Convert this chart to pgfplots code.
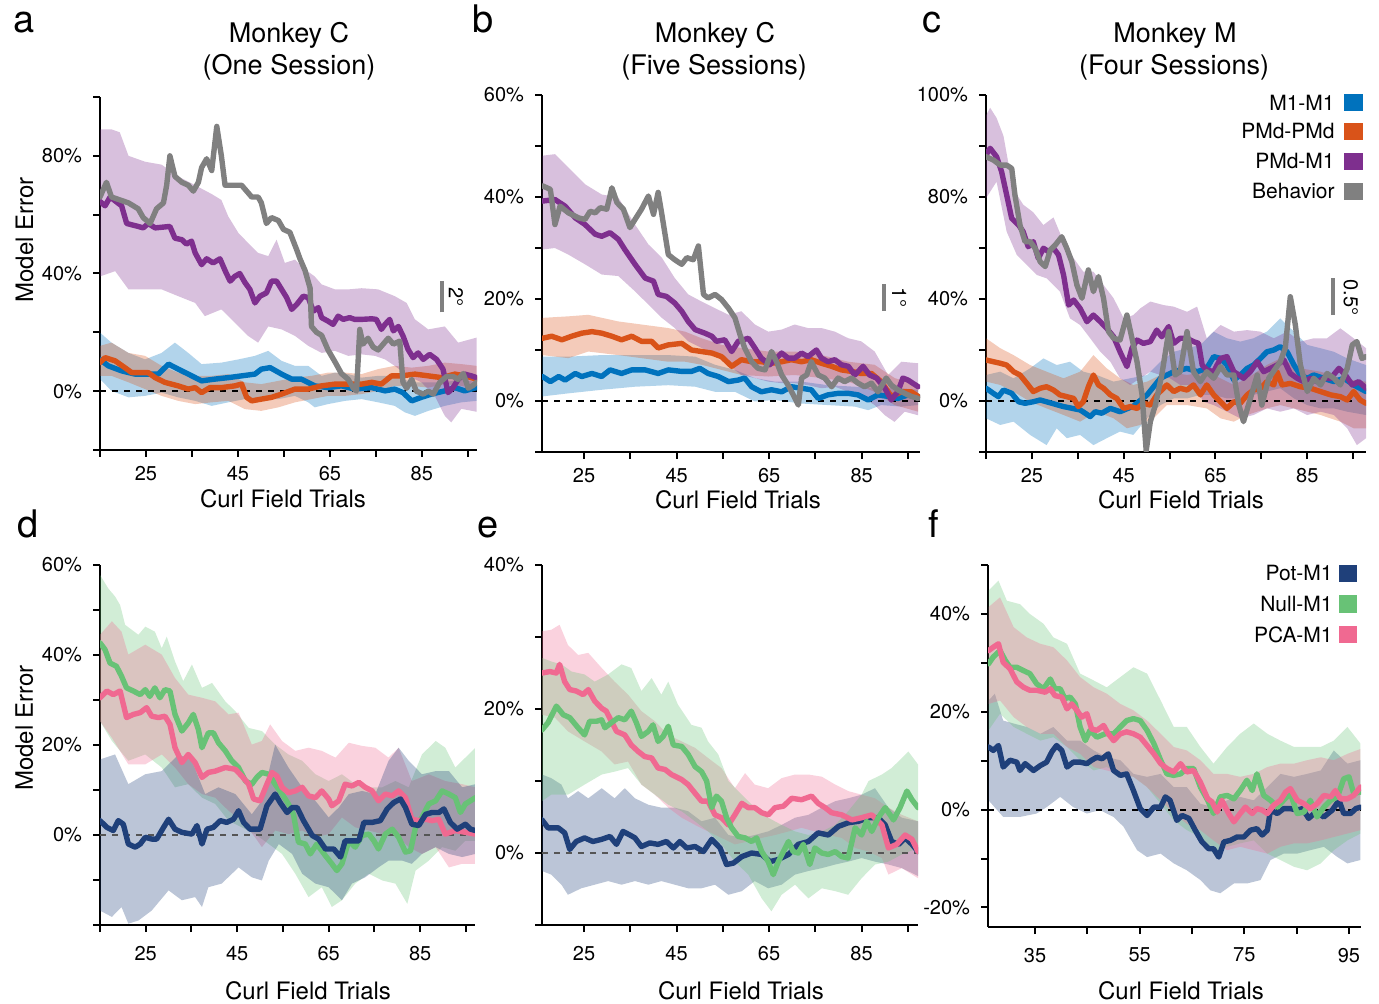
\documentclass[border=0pt]{standalone}
\usepackage{pgfplots}
\pgfplotsset{compat=1.18}
\usepgfplotslibrary{fillbetween}
\usepackage{fontspec}
\setmainfont{TeX Gyre Heros}
\definecolor{cM}{RGB}{0,114,189}
\definecolor{cO}{RGB}{217,83,25}
\definecolor{cP}{RGB}{126,47,142}
\definecolor{cG}{RGB}{128,128,128}
\definecolor{cN}{RGB}{31,64,122}
\definecolor{cL}{RGB}{104,194,118}
\definecolor{cK}{RGB}{240,105,145}
\definecolor{dg}{RGB}{85,85,85}
\newcommand{\band}[4]{%
 \addplot[draw=none, name path=#2u] coordinates {#3};
 \addplot[draw=none, name path=#2l] coordinates {#4};
 \addplot[fill=#1, fill opacity=0.3, draw=none] fill between[of=#2u and #2l];}
\tikzset{sb/.style={cG, line width=2pt}}
\pgfplotsset{
 panel/.style={scale only axis, anchor=south west, axis x line*=bottom, axis y line*=left,
   axis line style={-, line width=1pt}, tick align=outside, major tick length=3.5pt,
   tick style={black, line width=1pt},
   tick label style={font=\fontsize{10}{12}\selectfont},
   yticklabel style={xshift=-2pt},
   label style={font=\fontsize{12}{14}\selectfont},
   xlabel={Curl Field Trials}},
 ln/.style={line width=2.7pt, line join=round, line cap=round},
 zl/.style={line width=1pt, dash pattern=on 3pt off 3pt},
}
\begin{document}
\begin{tikzpicture}
% ---------------- a ----------------
\begin{axis}[panel, at={(50pt,-225pt)}, width=188.5pt, height=176.5pt,
  xmin=15, xmax=97, ymin=-20, ymax=100,
  xtick={15,25,...,95}, xticklabels={,25,,45,,65,,85,}, xticklabel style={yshift=-1pt},
  ytick={-20,0,...,100}, yticklabels={,0\%,,40\%,,80\%,},
  ylabel={Model Error},
  xlabel style={at={(axis description cs:0.4854,-0.1643)}, anchor=base},
  ylabel style={at={(axis description cs:-0.1777,0.595)}, anchor=base}]
\addplot[black, zl] coordinates {(15,0) (97,0)};
\band{cM}{am}{(15.0,19.9) (17.5,16.5) (21.2,13) (24.8,10.8) (28.4,13) (31.3,16.5) (34.2,13) (37.1,9.2) (41.4,9.7) (45.1,10.8) (48.7,12) (51.6,13.7) (54.5,10.3) (57.4,8.6) (60.3,8.6) (63.2,5.2) (66.1,6.3) (69.0,5.8) (71.9,4.6) (75.5,5.2) (79.1,5.2) (82.8,3) (86.4,3) (90.0,3) (93.6,4.1) (96.9,3)}{(15.0,4.1) (17.5,0.1) (21.2,-2.1) (24.8,-1.6) (28.4,-0.5) (32.0,-2.1) (35.7,-3.3) (39.3,-5) (42.9,-3.8) (46.5,-2.7) (50.1,-2.7) (53.8,-2.7) (57.4,-1.6) (60.3,-3.8) (61.7,-5.5) (64.6,-4.4) (68.3,-3.3) (71.9,-2.7) (75.5,-3.8) (79.1,-5) (81.3,-7.2) (83.5,-8.4) (86.4,-6.7) (90.0,-5) (93.6,-3.8) (96.9,-3.3)}
\addplot[cM, ln] coordinates {(15.0,10.8) (16.8,8.6) (19.7,6.9) (22.6,5.8) (25.5,5.8) (27.7,5.8) (29.9,9.2) (32.0,7.5) (34.2,5.8) (37.1,3.5) (40.0,4.1) (42.9,4.6) (45.8,5.2) (48.7,5.8) (50.1,7.5) (52.0,8) (54.5,5.8) (56.7,4.1) (58.8,4.1) (61.7,1.8) (64.6,1.2) (67.5,1.8) (70.4,0.7) (74.1,1.2) (77.0,0.1) (79.1,0.7) (80.9,-0.5) (82.8,-3.3) (84.9,-2.1) (87.1,-1) (90.0,0.1) (92.2,1.2) (94.3,0.1) (96.9,1.2)};
\band{cO}{ao}{(15.0,15.4) (17.5,16.5) (21.2,13) (24.8,12) (28.4,8.6) (32.0,6.3) (35.7,5.2) (39.3,5.2) (42.9,5.8) (46.5,3) (50.1,2.4) (53.8,3.5) (57.4,4.6) (61.0,5.2) (64.6,6.3) (68.3,6.3) (71.9,5.8) (75.5,7.5) (79.1,8.6) (82.8,8) (86.4,8.6) (90.0,9.7) (93.6,9.2) (96.9,8.6)}{(15.0,5.2) (17.5,5.2) (21.2,3) (24.8,0.7) (28.4,-1.6) (32.0,-3.3) (35.7,-4.4) (39.3,-3.8) (42.9,-3.3) (46.5,-6.1) (50.1,-6.7) (53.8,-5.5) (57.4,-3.8) (61.0,-2.7) (64.6,-1.6) (68.3,-1.6) (71.9,-1) (75.5,0.1) (79.1,1.8) (82.8,1.8) (86.4,1.2) (90.0,2.4) (93.6,1.8) (96.9,0.7)}
\addplot[cO, ln] coordinates {(15.0,9.7) (16.1,11.4) (18.3,10.3) (20.4,8) (21.9,6.3) (23.7,6.3) (25.5,6.3) (27.0,4.6) (29.1,3) (32.0,1.8) (34.2,0.7) (35.7,1.2) (37.1,-0.5) (38.9,1.2) (41.4,1.2) (44.3,1.8) (45.8,2.4) (46.9,-2.1) (48.0,-3.3) (50.1,-2.7) (52.3,-2.1) (54.5,-1) (57.4,0.7) (60.3,0.7) (63.2,1.8) (66.1,2.4) (69.0,2.4) (71.9,2.4) (74.1,3) (76.2,2.4) (78.4,5.2) (80.6,5.2) (83.5,5.8) (86.4,5.2) (89.3,4.6) (92.2,5.8) (94.3,5.2) (96.9,4.1)};
\band{cP}{ap}{(15.0,89) (17.5,89) (19.3,88) (21.2,80) (24.8,78) (28.4,77) (32.0,73) (35.7,70) (39.3,67) (41.4,65) (42.9,59.4) (45.1,53.8) (47.2,50.4) (49.4,47) (51.6,45.9) (53.4,51.5) (55.2,43.6) (57.4,44.7) (59.6,41.4) (61.7,39) (63.2,36.3) (66.1,34.6) (69.0,34.6) (71.9,35) (75.5,34.6) (79.1,32.3) (81.7,30) (83.5,24.4) (86.4,21) (90.0,22) (92.9,16.5) (96.9,18.2)}{(15.0,39) (18.3,40.8) (21.2,34.6) (24.8,34.6) (28.4,34.6) (32.0,32.3) (35.7,30) (37.8,25.5) (41.4,27.8) (44.3,23.3) (47.2,18.8) (49.4,16.5) (51.6,22) (54.5,21) (57.4,18.8) (60.3,15.4) (63.2,13) (66.1,13.7) (69.0,12) (71.9,12.5) (74.8,12) (77.0,10.8) (79.1,8.6) (82.0,5.2) (84.9,3) (87.8,-1.6) (90.0,-8.4) (91.4,-10.6) (93.6,-6) (96.9,-7)}
\addplot[cP, ln] coordinates {(15.0,64.5) (16.1,63) (17.2,66) (19.7,63) (20.8,57) (23.3,56) (24.4,55.5) (25.5,57) (27.0,55.5) (30.2,56) (31.3,52) (32.8,51.5) (33.8,50) (34.9,51) (35.7,47) (37.1,43) (38.2,45) (39.6,43.6) (41.1,45) (42.2,41) (43.3,37.4) (44.3,39) (45.4,40) (46.5,37) (47.6,34.6) (48.7,30) (49.8,32.3) (51.2,33.4) (52.3,37.4) (53.4,37.4) (54.5,34.6) (55.6,31.8) (56.7,27.8) (57.8,29.5) (59.2,32.3) (60.3,31.8) (61.4,27.2) (62.5,28.4) (63.2,25) (64.6,23.8) (65.7,22.7) (66.8,25.5) (67.9,24.4) (69.3,25) (70.4,24.4) (71.9,24.4) (74.1,24.6) (75.1,24.4) (76.2,21) (77.0,22.7) (78.0,24.4) (78.8,20.5) (79.9,22) (80.9,18.8) (82.0,14.2) (83.1,11.4) (84.2,13) (85.3,10.8) (86.7,12.5) (88.2,10.8) (89.6,7.5) (90.7,-0.5) (91.8,1.2) (92.9,4) (94.3,5.8) (95.8,5.2) (96.9,4.6)};
\addplot[cG, ln] coordinates {(15.0,66) (16.4,71) (17.5,66) (21.2,64) (23.3,62) (24.4,59) (25.9,57) (27.3,62) (28.8,64) (29.5,70) (30.2,80) (31.3,73) (32.8,71) (34.2,70) (35.3,68) (36.4,71) (37.1,76) (38.2,79) (39.3,75) (40.4,90) (41.4,80) (42.2,70) (45.8,70) (46.9,68) (48.0,66) (49.4,66) (50.1,64) (51.2,57) (52.3,59) (53.8,58) (54.9,55) (56.3,54) (57.8,48) (58.5,45) (59.6,41) (60.7,35) (61.0,22) (62.1,20) (63.2,19) (64.6,14) (66.1,10) (67.5,6) (69.0,4) (70.1,1) (70.8,0) (71.5,21) (72.2,16) (73.3,18) (74.4,15) (75.5,14) (76.6,16) (77.7,18) (78.8,16) (80.2,17) (80.9,3) (81.7,1) (82.8,4) (83.8,0) (85.3,-1) (86.4,0) (87.5,-1) (88.9,3) (90.4,5) (91.8,5) (92.9,4) (94.0,6) (95.1,1) (96.2,2) (96.9,3)};
\draw[sb] (axis cs:89.3,26.8) -- (axis cs:89.3,37.3);
\node[rotate=-90, font=\fontsize{10}{12}\selectfont] at (axis cs:92.4,31.9) {2°};
\end{axis}
% ---------------- b ----------------
\begin{axis}[panel, at={(271pt,-226pt)}, width=189pt, height=178.5pt,
  xmin=15.9, xmax=97.6, ymin=-10, ymax=60,
  xtick={25,35,...,95}, xticklabels={25,,45,,65,,85,}, xticklabel style={yshift=-1pt},
  ytick={-10,0,...,60}, yticklabels={,0\%,,20\%,,40\%,,60\%},
  xlabel style={at={(axis description cs:0.5185,-0.1569)}, anchor=base}]
\addplot[black, zl] coordinates {(15.9,0) (97.6,0)};
\band{cM}{bm}{(16.0,8.7) (21.6,8.7) (28.8,9.0) (36.0,9.0) (43.2,9.0) (49.0,8.7) (53.3,7.1) (57.6,6.1) (61.9,4.5) (66.2,3.8) (72.0,3.8) (77.7,3.1) (83.5,2.8) (89.2,2.5) (93.6,2.5) (97.2,2.2)}{(16.0,0.9) (21.6,1.5) (28.8,2.2) (36.0,2.8) (43.2,3.1) (49.0,2.8) (53.3,1.8) (57.6,1.8) (61.9,-0.1) (66.2,0.2) (72.0,-0.5) (77.7,-0.8) (83.5,-1.1) (86.4,-1.8) (89.2,-0.8) (93.6,-1.1) (97.2,-0.8)}
\addplot[cM, ln] coordinates {(16.0,4.8) (17.7,3.8) (19.5,4.8) (20.9,4.1) (23.1,5.4) (24.5,4.8) (26.7,5.4) (28.8,4.8) (30.6,6.1) (33.1,5.4) (35.3,6.1) (38.2,6.1) (41.0,5.4) (43.2,6.1) (46.1,5.8) (48.2,5.8) (50.0,6.4) (51.8,5.4) (54.0,4.8) (56.2,3.8) (58.3,4.1) (59.7,4.5) (61.2,2.8) (63.3,1.8) (65.5,2.2) (67.7,1.8) (69.8,2.8) (72.0,2.5) (74.1,2.2) (75.6,0.5) (77.7,1.2) (79.9,1.5) (82.1,1.5) (84.2,1.2) (86.4,0.2) (88.5,1.2) (90.7,0.9) (92.8,0.5) (95.0,1.2) (97.2,0.9)};
\band{cO}{bo}{(16.0,16.3) (21.6,16.6) (25.9,16.9) (32.4,15.6) (37.4,15.0) (43.2,14.3) (46.8,13.6) (50.4,12.3) (54.7,11.0) (59.0,10.4) (64.8,9.7) (70.5,9.7) (76.3,9.0) (82.1,7.7) (87.8,7.1) (92.1,4.5) (97.2,3.1)}{(16.0,9.0) (21.6,8.4) (25.9,9.7) (32.4,9.0) (37.4,8.4) (43.2,7.7) (46.8,7.7) (50.4,7.1) (54.7,6.1) (59.0,5.1) (64.8,4.8) (70.5,5.1) (76.3,4.5) (82.1,3.8) (87.8,1.8) (92.1,-0.8) (97.2,-2.1)}
\addplot[cO, ln] coordinates {(16.0,12.3) (18.0,12.7) (20.2,12.0) (22.3,12.7) (24.5,13.3) (26.7,13.6) (28.8,13.3) (31.0,12.7) (33.1,12.0) (35.3,12.7) (37.4,11.7) (39.6,11.7) (41.0,10.4) (43.2,11.0) (46.1,11.3) (48.2,10.0) (50.4,9.7) (52.6,9.4) (54.7,8.7) (56.9,6.8) (59.0,8.1) (61.2,7.7) (63.3,7.7) (65.5,7.4) (67.7,7.7) (69.8,8.1) (72.0,7.7) (74.1,8.1) (76.3,7.4) (78.5,6.8) (80.6,6.1) (82.8,5.8) (84.9,5.4) (87.1,5.4) (89.2,3.8) (91.4,0.9) (93.6,1.8) (95.7,1.8) (97.2,0.9)};
\band{cP}{bp}{(16.0,48.1) (18.7,48.4) (21.6,45.8) (25.2,42.5) (28.8,40.5) (32.4,39.9) (36.0,34.6) (38.9,30.7) (41.8,28.1) (44.6,24.1) (47.5,20.9) (50.4,19.5) (53.3,18.2) (56.2,16.9) (59.0,17.6) (61.9,15.0) (64.8,13.6) (67.7,14.0) (70.5,15.0) (73.4,14.3) (76.3,14.3) (79.2,13.6) (82.1,12.3) (84.9,11.7) (87.8,9.7) (90.7,5.1) (93.6,7.7) (97.2,7.4)}{(16.0,29.7) (18.7,30.0) (21.6,28.7) (25.2,26.8) (28.8,24.8) (32.4,24.5) (36.0,21.5) (38.9,18.9) (41.8,16.3) (44.6,14.3) (47.5,11.7) (50.4,10.4) (53.3,9.0) (56.2,7.1) (59.0,5.1) (61.9,4.5) (64.8,3.8) (67.7,3.5) (70.5,3.5) (73.4,3.1) (76.3,2.5) (79.2,2.8) (82.1,1.8) (84.9,0.9) (87.8,-0.8) (90.0,-2.8) (92.1,-4.1) (94.3,-2.1) (97.2,-2.8)}
\addplot[cP, ln] coordinates {(16.0,39.2) (18.7,39.5) (20.9,38.2) (23.1,35.9) (25.2,34.6) (27.4,32.7) (28.8,32.3) (30.6,33.0) (32.4,31.7) (33.8,29.7) (36.0,26.8) (38.2,24.1) (40.0,23.5) (41.0,20.9) (42.8,20.5) (44.6,19.2) (46.1,17.6) (47.5,15.6) (49.0,14.0) (51.1,13.3) (52.6,12.7) (53.6,11.7) (55.4,12.0) (56.9,9.7) (58.3,11.7) (60.5,12.3) (61.9,10.4) (63.3,8.4) (65.1,7.1) (66.2,8.1) (67.7,9.4) (69.1,8.4) (70.5,8.4) (72.0,9.4) (73.4,8.7) (75.2,10.0) (76.3,8.4) (77.7,7.7) (79.2,8.1) (80.6,7.1) (82.1,6.8) (83.5,5.1) (85.3,6.8) (86.7,5.1) (88.2,4.5) (90.0,2.5) (91.4,0.2) (92.8,1.8) (93.9,4.5) (95.0,4.1) (97.2,2.8)};
\addplot[cG, ln] coordinates {(16.0,42.2) (17.7,41.5) (18.7,34.6) (19.8,38.2) (21.6,36.9) (23.8,35.9) (25.2,35.6) (26.3,37.2) (27.4,36.9) (28.5,37.9) (29.9,37.6) (31.0,41.8) (32.1,38.9) (33.5,37.6) (34.9,34.0) (36.0,35.6) (37.4,37.6) (38.9,40.2) (40.0,36.6) (41.0,40.9) (41.8,36.6) (43.2,28.7) (44.6,27.7) (46.1,26.8) (47.2,28.1) (48.6,27.7) (49.7,30.4) (50.8,20.9) (51.8,20.2) (53.3,20.9) (54.7,19.9) (56.2,18.2) (57.6,16.3) (58.7,13.0) (59.7,10.4) (61.2,7.7) (62.6,6.4) (64.1,6.1) (65.5,9.7) (66.6,7.7) (67.7,5.1) (69.1,3.1) (70.2,1.2) (71.3,-0.8) (72.0,4.5) (73.1,5.1) (74.1,7.7) (75.6,5.1) (77.0,4.5) (78.5,2.8) (79.9,4.5) (81.3,3.8) (82.8,4.5) (84.2,3.5) (85.6,2.8) (87.1,3.5) (88.5,1.8) (90.3,4.5) (91.4,3.1) (92.8,2.2) (94.3,1.5) (95.7,0.9) (97.2,0.5)};
\draw[sb] (axis cs:89.8,17.6) -- (axis cs:89.8,23.0);
\node[rotate=-90, font=\fontsize{10}{12}\selectfont] at (axis cs:93.1,20.3) {1°};
\end{axis}
% ---------------- c ----------------
\begin{axis}[panel, at={(493pt,-226pt)}, width=190pt, height=178.5pt,
  xmin=15, xmax=97.8, ymin=-20, ymax=120,
  xtick={15,25,...,95}, xticklabels={,25,,45,,65,,85,}, xticklabel style={yshift=-1pt},
  ytick={-20,0,...,120}, yticklabels={,0\%,,40\%,,80\%,,100\%},
  xlabel style={at={(axis description cs:0.513,-0.1569)}, anchor=base}]
\addplot[black, zl] coordinates {(15,0) (97.8,0)};
\band{cM}{cm}{(15.0,10.2) (18.1,11.5) (21.0,8.9) (24.6,12.8) (27.5,16.7) (30.4,14.1) (33.3,15.4) (36.2,11.5) (39.1,10.2) (42.8,7.6) (46.4,8.9) (50.1,10.2) (53.0,15.4) (55.9,19.3) (58.8,20.7) (61.7,22.0) (64.6,27.2) (67.5,24.6) (70.4,23.3) (73.3,24.6) (76.2,27.2) (79.1,32.4) (82.1,27.2) (85.0,22.0) (87.9,20.7) (90.8,19.3) (93.7,16.7) (97.8,14.1)}{(15.0,-6.8) (18.1,-9.4) (21.0,-8.1) (24.6,-13.3) (28.2,-17.3) (30.4,-10.7) (32.6,-14.6) (35.5,-13.3) (38.4,-17.3) (41.3,-14.6) (44.2,-12.0) (47.1,-13.3) (50.1,-6.8) (53.0,-1.6) (55.9,1.0) (58.8,1.0) (61.7,2.4) (64.6,2.4) (67.5,1.0) (70.4,1.0) (73.3,2.4) (76.2,3.7) (79.1,5.0) (82.1,1.0) (85.0,-1.6) (87.9,-2.9) (90.8,-2.9) (93.7,-4.2) (97.8,-5.5)}
\addplot[cM, ln] coordinates {(15.0,5.0) (16.6,3.0) (17.7,1.7) (18.8,4.3) (20.6,3.0) (22.1,-0.3) (23.5,-0.9) (25.3,-0.3) (26.8,0.4) (31.9,-2.2) (35.5,-3.5) (37.7,-6.1) (38.8,-4.2) (40.2,-4.8) (42.1,-2.9) (44.2,-4.2) (47.1,-2.0) (50.1,2.4) (53.0,8.9) (55.9,11.5) (58.8,12.8) (61.0,11.5) (63.1,12.8) (64.6,17.4) (66.1,16.7) (67.5,14.1) (69.0,8.2) (70.4,10.2) (71.9,12.8) (73.3,14.1) (74.8,16.7) (76.2,19.3) (77.7,20.0) (79.1,21.3) (80.6,19.3) (82.1,14.1) (83.5,10.2) (85.0,8.9) (86.4,10.2) (88.6,8.9) (90.8,7.6) (93.0,8.9) (95.1,6.3) (97.8,3.7)};
\band{cO}{co}{(15.0,24.6) (18.1,20.7) (21.0,18.0) (24.6,14.1) (28.2,11.5) (31.9,8.9) (35.5,11.5) (38.4,18.0) (41.3,12.8) (44.2,8.9) (47.1,6.3) (50.1,7.6) (54.4,11.5) (58.8,10.2) (63.1,11.5) (66.1,8.9) (69.0,6.3) (71.9,8.9) (76.2,14.1) (79.1,16.7) (83.5,12.8) (87.9,11.5) (92.2,8.9) (97.8,7.6)}{(15.0,7.6) (18.1,6.3) (21.0,3.7) (24.6,-0.3) (28.2,-2.9) (31.9,-5.5) (35.5,-8.1) (39.1,-4.2) (42.8,-6.8) (45.7,-10.7) (48.6,-9.4) (51.5,-6.8) (54.4,-1.6) (58.8,-1.6) (63.1,-2.9) (66.1,-6.8) (69.0,-8.1) (71.9,-5.5) (76.2,-2.9) (79.1,-1.6) (83.5,-3.5) (87.9,-5.5) (92.2,-8.1) (95.1,-10.7) (97.8,-10.7)}
\addplot[cO, ln] coordinates {(15.0,16.1) (16.6,15.4) (18.1,14.8) (19.5,14.1) (21.0,11.5) (22.4,10.2) (23.9,6.9) (25.3,3.7) (26.8,5.0) (28.2,5.6) (29.7,4.3) (31.1,2.4) (32.6,1.7) (34.1,1.0) (35.1,-2.2) (36.2,-0.3) (37.3,5.6) (38.4,10.2) (39.5,6.3) (40.6,5.0) (42.1,2.4) (43.5,1.0) (45.0,-2.9) (46.4,-2.2) (47.9,-2.9) (49.3,-0.9) (50.8,-1.6) (52.2,2.4) (54.4,6.3) (55.9,3.7) (57.3,5.0) (58.8,4.3) (60.2,6.3) (61.7,2.4) (63.1,6.3) (64.6,2.4) (66.1,-0.3) (67.5,-2.9) (69.0,-0.3) (70.4,-0.9) (71.9,2.4) (73.3,4.3) (74.8,5.0) (76.2,7.6) (77.7,6.3) (78.4,11.5) (79.5,6.3) (81.3,6.9) (83.5,5.6) (85.7,5.0) (87.9,3.7) (90.1,2.4) (92.2,1.7) (93.7,0.4) (95.1,3.7) (96.5,0.4) (97.8,-0.9)};
\band{cP}{cp}{(15.0,112) (15.9,115) (17.3,111) (18.8,104) (20.2,90) (21.7,81) (23.1,77) (25.3,74) (27.5,69) (29.7,72) (31.9,62.5) (34.1,56) (36.2,50.7) (38.4,50.7) (40.6,45.5) (42.8,40.3) (45.0,32.4) (47.1,33.7) (48.6,36.3) (50.8,39.0) (53.7,37.6) (55.9,37.0) (58.8,35.0) (61.0,37.0) (63.1,24.6) (66.1,29.8) (69.0,27.2) (71.9,27.8) (74.8,27.2) (77.7,24.6) (80.6,27.2) (83.5,23.3) (86.4,24.6) (89.3,24.6) (92.2,28.5) (95.1,24.6) (97.8,20.7)}{(15.0,79.5) (17.3,86) (19.5,66.4) (21.7,57.3) (23.9,53.3) (26.1,49.4) (28.2,48.1) (31.1,42.9) (33.3,32.4) (35.5,29.8) (37.7,24.6) (39.9,19.3) (42.1,15.4) (44.2,8.9) (46.4,6.3) (48.6,8.9) (50.8,11.5) (53.0,10.2) (55.1,8.9) (57.3,6.3) (60.2,6.3) (62.4,-0.3) (64.6,-1.6) (67.5,-4.2) (70.4,-6.8) (73.3,-5.5) (76.2,-2.9) (79.1,-4.2) (82.1,-2.9) (85.0,-5.5) (87.9,-4.2) (90.8,-5.5) (93.7,-10.7) (95.8,-17.3) (97.8,-14.6)}
\addplot[cP, ln] coordinates {(15.0,96.5) (15.9,99.1) (17.3,95.8) (18.4,89.9) (19.5,80.8) (20.6,71.6) (22.1,69.0) (23.1,66.4) (24.2,60.5) (25.3,62.5) (26.4,55.9) (27.5,59.9) (28.6,58.6) (29.7,59.9) (30.8,57.3) (31.9,49.4) (33.0,37.6) (34.1,39.6) (35.5,36.3) (37.0,31.1) (38.4,33.7) (39.9,31.1) (41.3,28.5) (42.8,25.2) (44.2,19.3) (45.7,13.5) (46.8,20.7) (47.9,23.9) (49.3,22.6) (50.8,23.3) (52.2,27.8) (53.3,25.2) (54.8,29.2) (55.9,22.6) (57.3,24.6) (58.8,24.6) (60.2,23.3) (61.3,22.6) (62.1,14.1) (63.1,12.2) (64.6,11.5) (66.1,16.7) (67.5,17.4) (69.0,11.5) (70.1,10.2) (71.1,8.9) (72.6,11.5) (74.1,15.4) (75.5,11.5) (77.0,12.8) (78.4,14.1) (79.9,16.1) (81.3,10.8) (82.8,8.9) (84.2,7.6) (85.7,8.9) (87.1,7.6) (88.6,8.9) (90.1,8.9) (91.9,12.8) (93.3,10.2) (94.8,6.3) (96.2,7.6) (97.8,5.0)};
\addplot[cG, ln] coordinates {(15.0,95.8) (16.6,94.5) (18.1,92.5) (19.5,92.5) (20.6,91.2) (21.3,80.8) (22.4,69.0) (23.5,62.5) (24.6,62.5) (25.7,59.9) (26.8,54.6) (27.9,52.7) (29.0,59.2) (30.1,61.2) (31.5,64.4) (32.6,59.9) (33.7,54.6) (34.8,45.5) (35.9,40.3) (37.3,51.4) (38.4,42.9) (39.5,48.8) (40.6,40.3) (41.7,27.2) (42.8,24.6) (44.2,23.9) (45.7,33.7) (46.8,24.6) (47.9,15.4) (49.0,2.4) (49.9,-19.5) (50.8,-8.1) (51.9,-1.6) (53.3,10.2) (54.8,27.2) (56.2,10.2) (57.3,11.5) (58.8,27.2) (60.2,11.5) (61.7,7.6) (63.1,11.5) (64.6,8.9) (66.1,13.5) (67.5,10.2) (69.0,10.2) (70.1,-1.6) (71.1,-8.1) (72.6,1.0) (74.1,10.2) (75.1,-1.6) (76.6,8.9) (78.1,12.8) (79.1,15.4) (80.2,20.7) (81.3,40.9) (82.4,29.8) (83.5,14.1) (85.0,3.7) (86.4,8.9) (87.9,6.3) (89.3,10.8) (90.8,8.9) (92.2,6.3) (93.7,12.8) (94.8,22.0) (95.8,23.3) (96.9,16.7) (97.8,17.4)};
\draw[sb] (axis cs:90.5,33.7) -- (axis cs:90.5,48.2);
\node[rotate=-90, font=\fontsize{10}{12}\selectfont] at (axis cs:94.5,40.6) {0.5°};
\end{axis}
% ---------------- d ----------------
\begin{axis}[panel, at={(50pt,-462.5pt)}, width=187.5pt, height=180pt,
  xmin=15, xmax=97, ymin=-20, ymax=60,
  xtick={15,25,...,95}, xticklabels={,25,,45,,65,,85,}, xticklabel style={yshift=-3.5pt},
  ytick={-20,-10,...,60}, yticklabels={,,0\%,,20\%,,40\%,,60\%},
  ylabel={Model Error},
  xlabel style={at={(axis description cs:0.5547,-0.2056)}, anchor=base},
  ylabel style={at={(axis description cs:-0.1787,0.547)}, anchor=base}]
\addplot[dg, zl] coordinates {(15,0) (97,0)};
\band{cL}{dl}{(15.0,57.8) (16.8,54.8) (18.3,53.0) (19.4,51.1) (20.5,46.7) (23.4,44.5) (24.9,46.3) (27.0,45.2) (28.5,41.5) (29.6,44.1) (31.4,38.6) (33.2,34.2) (35.1,37.9) (37.3,32.7) (39.5,33.8) (42.4,29.7) (44.6,27.5) (47.5,23.8) (50.4,23.1) (53.3,20.1) (56.2,17.9) (59.2,16.5) (62.1,13.5) (65.0,12.0) (67.9,13.5) (70.8,11.3) (73.8,10.6) (76.7,10.6) (79.6,12.0) (82.5,10.6) (85.4,17.9) (88.4,20.9) (90.5,19.4) (92.7,15.0) (94.9,17.2) (97.1,19.4)}{(15.0,25.3) (17.6,20.9) (21.2,16.5) (24.9,17.9) (28.5,15.0) (31.4,10.6) (34.3,11.3) (37.3,8.3) (40.2,6.9) (43.1,3.2) (46.0,1.7) (48.9,0.2) (51.9,-2.0) (54.8,-4.2) (57.7,-8.6) (60.6,-13.8) (63.5,-11.6) (65.7,-16.0) (67.9,-14.5) (70.8,-10.8) (73.8,-8.6) (76.7,-10.1) (79.6,-10.8) (82.2,-15.3) (84.0,-7.9) (86.9,-5.7) (89.8,-2.7) (92.7,-3.5) (94.9,-1.3) (97.1,-1.3)}
\addplot[cL, ln] coordinates {(15.0,42.7) (16.1,41.2) (17.2,38.2) (18.6,37.5) (19.7,35.3) (20.8,32.7) (22.3,32.0) (23.8,31.2) (24.9,32.3) (25.9,30.8) (27.0,32.7) (28.1,30.5) (29.2,32.3) (30.3,32.0) (31.4,26.8) (32.9,23.1) (34.3,24.9) (35.4,26.8) (36.5,23.5) (37.3,19.4) (38.7,22.7) (39.8,22.7) (40.9,20.5) (42.4,18.7) (43.8,16.5) (45.3,15.0) (46.8,12.0) (48.2,11.3) (49.3,12.8) (50.4,13.9) (51.9,13.5) (53.3,11.3) (54.8,9.1) (56.2,6.9) (57.3,4.6) (58.4,-1.6) (59.9,-2.0) (61.0,-4.2) (62.4,-2.0) (64.3,-4.6) (65.7,-6.4) (66.8,-7.9) (67.9,-6.4) (69.4,-1.3) (70.8,-2.7) (72.3,-0.1) (73.8,0.2) (74.9,-1.3) (75.9,-3.1) (77.4,0.2) (78.9,1.3) (80.3,-0.5) (81.8,-3.8) (82.9,-3.5) (84.0,1.7) (85.4,3.9) (86.9,6.9) (88.4,7.6) (89.8,9.8) (91.3,9.1) (92.7,8.3) (93.8,5.0) (94.9,6.9) (97.1,8.3)};
\band{cK}{dk}{(15.0,44.5) (17.6,47.5) (19.7,45.2) (21.2,40.1) (24.9,42.3) (28.5,40.1) (31.4,34.9) (34.3,31.2) (37.3,30.5) (40.2,29.7) (43.1,26.8) (45.3,27.2) (48.2,20.1) (50.4,20.9) (52.2,24.6) (54.8,20.9) (57.7,18.7) (60.6,19.4) (63.5,18.7) (66.5,17.2) (69.4,20.5) (72.3,19.8) (75.2,19.4) (78.1,17.2) (80.3,19.4) (83.2,12.0) (86.9,13.5) (90.5,12.0) (94.2,11.3) (97.1,10.6)}{(15.0,25.3) (17.6,21.6) (21.2,15.7) (24.9,15.7) (28.5,17.9) (31.4,15.0) (34.3,11.3) (37.3,9.1) (40.2,8.3) (43.1,5.4) (46.0,3.2) (48.9,-0.5) (50.4,-2.7) (53.3,1.0) (56.2,0.2) (59.2,1.0) (62.1,-0.5) (65.0,0.2) (67.9,3.9) (70.8,1.7) (73.8,1.0) (76.7,0.2) (79.6,0.2) (82.5,-2.7) (85.4,-4.2) (88.4,-2.7) (91.3,-7.2) (94.2,-6.4) (97.1,-6.4)}
\addplot[cK, ln] coordinates {(15.0,30.5) (16.5,32.0) (17.9,31.2) (19.4,32.0) (20.8,26.1) (22.3,26.8) (23.8,27.2) (25.2,28.3) (26.3,26.4) (27.8,26.1) (29.2,26.4) (30.3,24.6) (31.4,19.4) (32.9,16.1) (34.3,17.9) (35.8,16.1) (37.3,12.8) (38.7,13.9) (40.2,14.2) (42.4,15.0) (44.6,14.6) (46.0,13.1) (47.5,11.3) (48.6,8.0) (50.0,7.6) (51.5,11.3) (52.6,13.9) (53.7,13.1) (54.8,10.6) (56.2,9.4) (57.7,9.8) (59.2,10.6) (60.6,8.7) (62.1,8.3) (63.5,9.8) (65.0,8.0) (65.7,6.5) (67.2,7.6) (68.6,11.3) (70.1,10.9) (71.6,11.7) (73.0,10.6) (74.5,9.8) (75.9,7.6) (77.4,9.1) (78.9,8.7) (80.3,9.8) (81.8,8.3) (83.2,3.5) (84.7,3.2) (86.2,3.5) (87.6,3.2) (89.1,3.5) (90.5,0.2) (92.7,1.0) (94.9,0.6) (97.1,0.2)};
\band{cN}{dn}{(15.0,16.8) (18.3,17.9) (21.2,11.3) (24.9,13.5) (28.5,14.2) (32.2,17.9) (35.1,16.5) (38.0,9.1) (40.9,10.6) (44.6,9.1) (48.2,4.6) (50.4,7.6) (53.3,20.1) (56.2,15.0) (59.2,10.6) (62.1,7.6) (65.0,3.9) (67.2,6.1) (69.4,9.1) (72.3,9.8) (75.2,9.1) (78.1,16.5) (80.3,19.4) (82.5,16.5) (85.4,13.5) (88.4,14.2) (91.3,14.2) (94.2,10.6) (97.1,11.3)}{(15.0,-16.8) (17.6,-18.2) (19.7,-16.0) (21.2,-19.7) (23.4,-19.0) (26.3,-16.8) (30.0,-12.3) (32.9,-14.5) (35.8,-13.8) (37.3,-16.0) (38.7,-11.6) (41.6,-10.8) (45.3,-7.2) (48.2,-9.4) (50.4,-10.1) (51.9,-5.7) (54.1,-2.0) (57.0,-4.2) (59.2,-8.6) (62.1,-10.8) (65.0,-11.6) (67.9,-14.5) (70.1,-10.8) (73.0,-9.4) (75.9,-7.2) (78.1,-5.7) (81.1,-5.7) (83.2,-6.4) (85.4,-4.2) (88.4,-2.7) (91.3,-4.2) (94.2,-4.9) (97.1,-4.2)}
\addplot[cN, ln] coordinates {(15.0,3.2) (16.5,1.7) (17.9,1.0) (19.0,3.2) (20.1,2.4) (21.2,-2.0) (22.7,-2.7) (23.8,-2.0) (24.9,-0.5) (26.3,-0.9) (27.4,-0.9) (28.9,1.7) (30.0,3.5) (31.4,1.3) (32.9,0.6) (35.1,0.2) (36.2,2.1) (37.3,-2.0) (38.4,1.3) (39.8,1.7) (41.3,3.2) (42.7,2.8) (44.2,3.5) (45.3,5.4) (46.4,2.8) (47.8,1.3) (50.0,1.3) (51.5,6.5) (53.3,9.1) (54.4,7.2) (55.9,5.0) (57.0,6.1) (58.1,6.1) (59.5,3.2) (61.4,-0.1) (62.8,-0.9) (64.3,-3.1) (66.1,-3.1) (67.6,-4.9) (68.6,-1.3) (70.1,-1.3) (71.6,-1.3) (72.7,2.8) (74.5,2.8) (76.3,3.2) (77.8,5.8) (79.2,7.2) (80.7,8.0) (81.8,6.1) (83.2,2.4) (84.7,2.1) (86.2,4.6) (87.6,5.0) (89.1,5.0) (90.2,5.8) (91.6,2.8) (93.1,1.3) (94.9,2.4) (96.0,1.3) (97.1,1.0)};
\end{axis}
% ---------------- e ----------------
\begin{axis}[panel, at={(271pt,-462.5pt)}, width=188pt, height=180pt,
  xmin=15.9, xmax=97.2, ymin=-10, ymax=40,
  xtick={25,35,...,95}, xticklabels={25,,45,,65,,85,}, xticklabel style={yshift=-3.5pt},
  ytick={-10,0,...,40}, yticklabels={,0\%,,20\%,,40\%},
  xlabel style={at={(axis description cs:0.529,-0.2056)}, anchor=base}]
\addplot[dg, zl] coordinates {(15.9,0) (97.2,0)};
\band{cN}{en}{(15.9,10.9) (17.9,10.4) (20.1,9.5) (21.5,7.6) (23.7,8.6) (25.9,7.6) (28.8,9.0) (31.6,7.6) (33.8,9.0) (36.0,7.6) (38.9,6.7) (41.7,6.3) (44.6,6.3) (47.5,5.8) (50.4,4.4) (53.3,4.9) (56.2,2.5) (59.1,2.1) (61.9,2.5) (64.8,3.0) (67.7,3.9) (70.6,4.9) (73.5,5.3) (76.4,6.3) (79.3,7.2) (82.1,7.6) (85.0,8.1) (87.9,9.0) (90.8,6.3) (93.7,4.9) (97.2,4.4)}{(15.9,-2.5) (17.9,-3.0) (20.1,-4.4) (21.5,-5.8) (24.4,-4.9) (27.3,-4.4) (30.2,-3.9) (33.1,-4.4) (36.0,-3.9) (38.9,-4.4) (41.7,-3.9) (44.6,-4.4) (47.5,-4.9) (50.4,-4.9) (53.3,-4.4) (56.2,-5.8) (59.1,-5.3) (61.9,-3.9) (64.8,-4.9) (67.7,-4.4) (70.6,-3.0) (73.5,-2.5) (76.4,-2.1) (79.3,-1.6) (82.1,-1.2) (85.0,-0.7) (87.9,-1.2) (90.8,-1.6) (93.7,-2.1) (97.2,-3.2)}
\addplot[cN, ln] coordinates {(15.9,4.6) (17.2,3.5) (19.4,3.5) (20.8,2.8) (21.9,0.5) (23.3,1.6) (25.1,2.1) (26.9,1.6) (28.8,1.9) (30.6,2.3) (32.0,1.2) (33.4,3.0) (34.9,2.5) (36.0,2.1) (37.4,0.9) (39.2,1.4) (41.0,1.2) (42.8,1.6) (44.3,0.7) (45.7,1.6) (47.2,0.7) (49.0,0.9) (50.8,0.2) (52.6,1.9) (54.4,0.7) (55.8,-1.6) (57.3,-1.4) (59.1,-0.5) (61.2,0.0) (63.4,-0.2) (65.2,-1.2) (67.0,-0.9) (69.2,-0.2) (71.3,1.2) (73.5,1.6) (75.6,2.8) (77.8,2.5) (80.0,3.7) (82.1,4.2) (84.3,4.4) (86.5,4.9) (88.6,4.9) (90.1,3.9) (91.5,1.6) (93.0,1.2) (94.4,2.1) (95.9,1.2) (97.2,0.2)};
\band{cK}{ek}{(15.9,30.8) (17.9,31.0) (19.7,31.7) (21.5,28.9) (23.7,27.5) (25.9,27.8) (28.8,25.7) (31.6,23.8) (34.5,22.0) (37.4,19.7) (40.3,18.3) (43.2,16.4) (46.1,15.5) (49.0,14.6) (51.8,13.2) (54.7,11.8) (57.6,9.0) (59.8,11.1) (61.9,9.5) (64.8,9.0) (67.7,10.4) (70.6,10.9) (73.5,10.9) (76.4,10.6) (79.3,9.5) (82.1,8.6) (85.0,8.1) (87.9,7.6) (90.8,6.3) (93.7,5.3) (97.2,4.4)}{(15.9,19.2) (18.7,18.8) (21.5,16.9) (25.1,15.5) (28.8,14.1) (31.6,12.3) (34.5,12.7) (37.4,9.5) (40.3,8.1) (43.2,6.3) (46.1,4.9) (49.0,3.9) (51.8,3.0) (54.7,2.1) (57.6,1.2) (60.5,1.6) (63.4,2.1) (66.3,2.5) (69.2,3.0) (72.0,3.5) (74.9,3.0) (77.8,2.5) (80.7,2.1) (83.6,0.7) (86.5,0.2) (89.4,-0.7) (90.8,-3.0) (93.7,-2.1) (97.2,-3.5)}
\addplot[cK, ln] coordinates {(15.9,25.0) (17.6,25.2) (19.0,25.0) (19.7,26.2) (20.8,23.8) (21.9,22.7) (23.3,22.5) (24.8,22.0) (25.9,22.7) (27.3,21.1) (28.8,20.1) (29.8,19.7) (30.9,18.3) (32.0,16.9) (33.8,16.4) (35.2,15.0) (36.7,14.1) (38.1,13.4) (39.6,13.2) (41.0,11.8) (42.5,11.6) (43.9,10.9) (46.1,10.2) (47.5,9.5) (49.0,8.3) (50.4,7.2) (51.8,7.2) (53.3,5.3) (54.7,4.9) (56.2,3.9) (57.6,5.3) (59.1,6.9) (60.5,6.3) (61.9,6.3) (63.4,5.6) (64.8,5.3) (66.3,6.3) (68.1,6.5) (69.9,7.6) (72.0,7.4) (74.2,7.9) (75.6,6.9) (77.1,6.3) (78.5,5.6) (80.7,5.3) (82.9,4.6) (85.0,4.9) (87.2,5.3) (89.4,3.9) (90.8,0.7) (92.6,1.2) (94.4,2.5) (95.9,1.9) (97.2,0.2)};
\band{cL}{el}{(15.9,27.1) (17.9,26.6) (20.1,26.2) (22.3,25.2) (25.1,24.8) (27.3,23.8) (30.2,24.8) (33.1,26.2) (35.2,25.7) (37.4,22.5) (39.6,24.3) (41.7,22.0) (43.2,23.8) (45.3,20.6) (48.2,17.8) (50.4,17.4) (51.8,15.5) (54.0,13.7) (56.2,10.0) (59.1,8.1) (61.9,6.3) (64.8,4.9) (67.7,3.9) (70.6,3.0) (73.5,2.5) (76.4,3.0) (79.3,3.9) (82.1,5.8) (85.0,8.1) (86.5,10.0) (89.4,10.9) (91.5,11.8) (93.7,13.2) (95.1,14.1) (97.2,12.3)}{(15.9,7.2) (17.9,8.1) (21.5,8.1) (25.1,9.5) (28.8,10.9) (31.6,11.3) (34.5,11.8) (37.4,9.5) (40.3,8.1) (43.2,6.7) (46.1,5.8) (49.0,4.4) (51.8,3.0) (54.7,1.2) (57.6,-1.2) (60.5,-3.0) (63.4,-6.3) (65.5,-8.1) (67.7,-5.8) (70.6,-4.4) (73.5,-6.3) (76.4,-4.9) (79.3,-5.3) (82.1,-5.8) (85.0,-3.5) (87.9,-1.6) (90.8,-1.2) (93.7,-0.2) (97.2,0.7)}
\addplot[cL, ln] coordinates {(15.9,17.1) (17.2,18.1) (19.0,20.4) (20.5,19.2) (21.9,18.8) (23.7,17.4) (25.1,16.4) (26.2,18.3) (27.7,18.3) (28.8,18.5) (29.5,17.4) (30.9,18.1) (32.4,18.8) (33.8,18.5) (35.2,19.7) (36.3,18.1) (37.4,16.2) (38.9,16.9) (39.9,17.8) (41.0,15.5) (42.1,16.2) (43.2,17.6) (44.3,15.0) (46.1,14.8) (47.5,13.7) (49.0,12.0) (50.4,11.3) (51.5,10.0) (52.6,6.3) (53.6,7.9) (54.7,7.2) (55.8,4.9) (56.9,3.5) (58.3,2.3) (59.8,2.1) (61.2,1.6) (62.3,2.1) (63.4,0.2) (64.8,-1.2) (65.9,-3.0) (67.0,-1.2) (68.1,0.2) (69.2,1.6) (70.2,0.2) (71.3,0.0) (72.4,1.2) (73.8,-1.6) (74.9,0.7) (76.4,0.0) (77.8,-0.2) (79.3,0.2) (80.7,-0.5) (82.1,-0.7) (83.6,3.5) (85.0,2.5) (86.1,4.4) (87.2,3.0) (88.6,4.9) (90.1,6.3) (91.9,4.6) (93.3,6.3) (94.8,8.6) (95.9,7.4) (97.2,6.3)};
\end{axis}
% ---------------- f ----------------
\begin{axis}[panel, at={(494pt,-463.5pt)}, width=186.5pt, height=181pt,
  xmin=26, xmax=97.3, ymin=-24, ymax=50,
  xtick={35,45,...,95}, xticklabels={35,,55,,75,,95}, xticklabel style={yshift=-3.5pt},
  ytick={-20,-10,...,50}, yticklabels={-20\%,,0\%,,20\%,,40\%,},
  xlabel style={at={(axis description cs:0.5174,-0.199)}, anchor=base}]
\addplot[black, zl] coordinates {(26,0) (97.3,0)};
\band{cN}{fn}{(26.1,22.3) (27.3,23.7) (28.9,18.2) (30.9,17.6) (33.4,16.9) (36.0,15.5) (38.5,16.9) (41.1,14.1) (43.6,14.1) (46.2,12.1) (48.7,10.7) (51.3,10.1) (53.8,7.3) (56.4,6.7) (59.0,7.3) (61.5,4.6) (64.0,4.6) (66.6,1.2) (69.1,0.5) (71.7,1.9) (74.2,2.6) (76.8,1.9) (79.4,4.6) (81.9,7.3) (84.5,6.7) (87.0,7.3) (89.6,8.0) (92.1,12.1) (94.7,9.4) (97.2,10.1)}{(26.1,1.9) (28.9,-1.5) (32.1,-1.5) (35.3,-0.8) (37.2,0.5) (39.8,2.6) (42.3,0.5) (44.9,-0.8) (47.4,-0.1) (50.0,-1.5) (51.9,-3.5) (54.5,-8.3) (56.4,-9.7) (59.0,-9.0) (61.5,-11.0) (64.0,-12.4) (66.6,-14.4) (68.5,-16.5) (70.4,-17.1) (73.0,-15.1) (75.5,-15.1) (78.1,-14.4) (80.0,-10.3) (82.5,-9.0) (85.1,-9.0) (87.6,-8.3) (90.2,-7.6) (92.8,-9.7) (94.7,-11.0) (97.2,-10.3)}
\addplot[cN, ln] coordinates {(26.1,12.8) (27.0,12.1) (28.0,13.1) (28.9,8.7) (30.2,10.1) (31.5,9.7) (32.1,8.0) (33.1,9.4) (34.7,8.0) (36.0,9.0) (37.2,9.7) (38.2,11.8) (39.1,13.1) (40.1,12.1) (41.1,8.7) (42.3,9.7) (43.6,9.7) (44.9,9.4) (45.8,10.1) (46.8,10.7) (47.8,10.4) (49.0,11.4) (50.0,8.0) (51.3,7.0) (52.5,7.3) (53.8,3.9) (55.1,0.2) (56.4,-1.2) (57.7,0.5) (59.0,0.5) (59.9,2.6) (60.8,1.9) (62.1,-2.2) (63.1,-1.2) (64.4,-1.8) (65.6,-4.2) (66.9,-6.6) (68.2,-8.0) (69.1,-8.0) (70.1,-9.7) (71.1,-6.6) (72.3,-6.3) (73.6,-5.6) (74.9,-5.6) (76.2,-4.2) (77.4,-3.9) (78.4,-5.2) (79.4,-4.2) (80.0,-0.1) (81.3,-0.8) (82.5,0.2) (83.8,0.2) (85.1,-0.1) (86.1,0.2) (87.3,-1.8) (88.6,-0.5) (90.2,-1.5) (91.8,-0.1) (93.1,1.9) (94.0,-0.8) (95.3,-0.8) (96.3,0.2) (97.2,0.5)};
\band{cL}{fl}{(26.1,44.8) (28.0,46.8) (29.6,42.7) (32.1,42.0) (34.0,40.0) (36.6,38.0) (38.5,35.2) (41.1,33.9) (43.6,27.8) (46.2,26.4) (48.7,25.0) (51.3,27.1) (53.8,29.1) (56.4,27.8) (59.0,22.3) (61.5,16.9) (64.0,16.9) (66.6,12.8) (69.1,9.4) (71.7,12.8) (74.2,15.5) (76.8,17.6) (79.4,15.5) (81.9,14.1) (84.5,12.8) (87.0,12.8) (89.6,12.8) (92.1,14.1) (94.7,16.9) (97.2,13.5)}{(26.1,16.2) (28.3,19.6) (30.9,16.9) (33.4,15.5) (36.0,14.1) (38.5,14.8) (41.1,12.8) (43.6,10.1) (46.2,8.0) (48.7,8.7) (51.3,7.3) (53.8,6.7) (56.4,4.6) (59.0,1.2) (61.5,-2.2) (64.0,-4.2) (66.6,-5.6) (69.1,-9.0) (71.7,-7.6) (74.2,-6.9) (76.8,-6.3) (79.4,-9.0) (81.9,-10.3) (84.5,-11.7) (87.0,-12.4) (89.6,-11.0) (92.1,-8.3) (94.7,-6.3) (97.2,-4.9)}
\addplot[cL, ln] coordinates {(26.1,29.8) (27.0,31.2) (28.3,32.5) (29.3,30.5) (30.2,29.1) (31.5,29.1) (32.8,28.4) (34.0,27.8) (35.3,25.7) (36.6,24.7) (37.9,26.7) (38.8,24.7) (39.8,24.7) (40.7,22.7) (41.7,23.0) (42.7,21.6) (43.6,16.9) (44.6,14.1) (45.5,16.2) (46.8,14.8) (48.4,15.5) (50.0,15.5) (51.3,16.9) (52.5,18.2) (53.8,18.6) (55.1,18.2) (56.4,16.2) (57.7,13.5) (59.0,10.1) (60.2,7.3) (61.5,7.0) (62.8,7.3) (64.0,8.4) (65.3,8.4) (66.6,4.6) (68.0,1.9) (69.1,-0.8) (70.4,2.6) (71.7,2.9) (73.0,2.2) (74.2,3.9) (75.5,6.0) (76.5,3.9) (77.4,7.3) (78.7,2.9) (80.0,1.9) (81.3,0.5) (82.5,1.9) (83.8,3.3) (85.1,-0.8) (86.4,-0.5) (87.6,1.9) (88.9,-1.5) (90.2,0.5) (91.5,1.9) (92.8,2.6) (94.0,6.3) (95.0,6.7) (95.9,3.3) (97.2,3.6)};
\band{cK}{fk}{(26.1,41.4) (28.3,43.4) (30.9,37.3) (33.4,35.2) (36.0,33.9) (38.5,33.2) (41.1,30.5) (43.6,27.1) (46.2,25.0) (48.7,23.7) (51.3,21.6) (53.8,20.3) (56.4,18.2) (59.0,15.5) (61.5,12.8) (64.0,12.1) (66.6,10.1) (69.1,7.3) (71.7,7.3) (74.2,6.7) (76.8,7.3) (79.4,8.7) (81.9,9.4) (84.5,9.4) (87.0,10.1) (89.6,10.7) (92.1,10.1) (94.7,11.4) (97.2,12.4)}{(26.1,21.6) (28.3,22.3) (30.9,18.9) (33.4,16.9) (36.0,15.5) (38.5,15.5) (41.1,12.8) (43.6,11.4) (46.2,8.7) (48.7,8.0) (51.3,7.3) (53.8,6.7) (56.4,4.6) (59.0,1.9) (61.5,-0.8) (64.0,-2.9) (66.6,-4.2) (69.1,-6.3) (71.7,-8.3) (74.2,-7.6) (76.8,-8.3) (79.4,-9.0) (81.9,-7.6) (84.5,-6.9) (87.0,-6.9) (89.6,-6.3) (92.1,-5.6) (94.7,-4.9) (97.2,-4.2)}
\addplot[cK, ln] coordinates {(26.1,32.5) (27.0,33.2) (28.0,33.9) (28.9,30.1) (30.2,28.8) (31.5,26.1) (32.8,25.0) (34.0,24.4) (35.3,24.4) (36.9,24.0) (37.9,24.7) (38.8,23.3) (40.1,23.0) (41.1,20.6) (42.0,21.6) (43.0,20.3) (43.9,18.9) (44.9,19.6) (45.8,16.5) (46.8,16.2) (48.1,17.2) (49.0,15.5) (50.0,14.1) (51.3,15.5) (52.5,15.9) (53.8,15.5) (55.1,14.8) (56.4,13.1) (57.7,11.4) (59.0,9.4) (60.2,8.4) (61.5,7.7) (62.8,9.4) (64.0,7.7) (65.3,8.0) (66.6,5.6) (68.0,2.2) (68.8,1.6) (69.8,-0.5) (70.7,1.9) (72.0,-0.8) (73.0,-2.5) (74.2,-0.8) (75.2,0.5) (76.5,-0.8) (77.4,0.2) (78.4,-0.1) (79.4,-0.8) (80.6,0.9) (81.9,1.9) (82.9,3.6) (83.8,4.3) (85.1,1.9) (86.4,1.2) (87.6,0.2) (88.9,1.2) (90.2,2.9) (91.5,2.6) (92.4,3.9) (93.4,2.2) (94.7,2.2) (95.9,2.9) (97.2,4.6)};
\end{axis}
% ---------------- text, legends ----------------
\begin{scope}[x=0.5pt, y=-0.5pt]
\tikzset{pl/.style={anchor=base west, inner sep=0pt, font=\fontsize{19}{22}\selectfont},
         tt/.style={anchor=base, inner sep=0pt, font=\fontsize{13.5}{16}\selectfont},
         lg/.style={anchor=east, inner sep=0pt, font=\fontsize{10.5}{12}\selectfont}}
\node[pl] at (13,33) {a};
\node[pl] at (472,33) {b};
\node[pl] at (922,33) {c};
\node[pl] at (17,538) {d};
\node[pl] at (477,538) {e};
\node[pl] at (928,538) {f};
\node[tt] at (289,43) {Monkey C};
\node[tt] at (289,75) {(One Session)};
\node[tt] at (715,43) {Monkey C};
\node[tt] at (714,75) {(Five Sessions)};
\node[tt] at (1175,43) {Monkey M};
\node[tt] at (1174,75) {(Four Sessions)};
\node[lg] at (1335,102.5) {M1-M1};
\node[lg] at (1335,131.5) {PMd-PMd};
\node[lg] at (1335,161.5) {PMd-M1};
\node[lg] at (1335,191.5) {Behavior};
\fill[cM] (1344,94) rectangle (1363,111);
\fill[cO] (1344,123) rectangle (1363,140);
\fill[cP] (1344,153) rectangle (1363,170);
\fill[cG] (1344,183) rectangle (1363,200);
\node[lg] at (1333,573.5) {Pot-M1};
\node[lg] at (1333,604) {Null-M1};
\node[lg] at (1333,634.5) {PCA-M1};
\fill[cN] (1339,565) rectangle (1357,582);
\fill[cL] (1339,595) rectangle (1357,613);
\fill[cK] (1339,626) rectangle (1357,643);
\end{scope}
\pgfresetboundingbox
\path[use as bounding box] (0,0) rectangle (689.5pt,-502pt);
\end{tikzpicture}
\end{document}
